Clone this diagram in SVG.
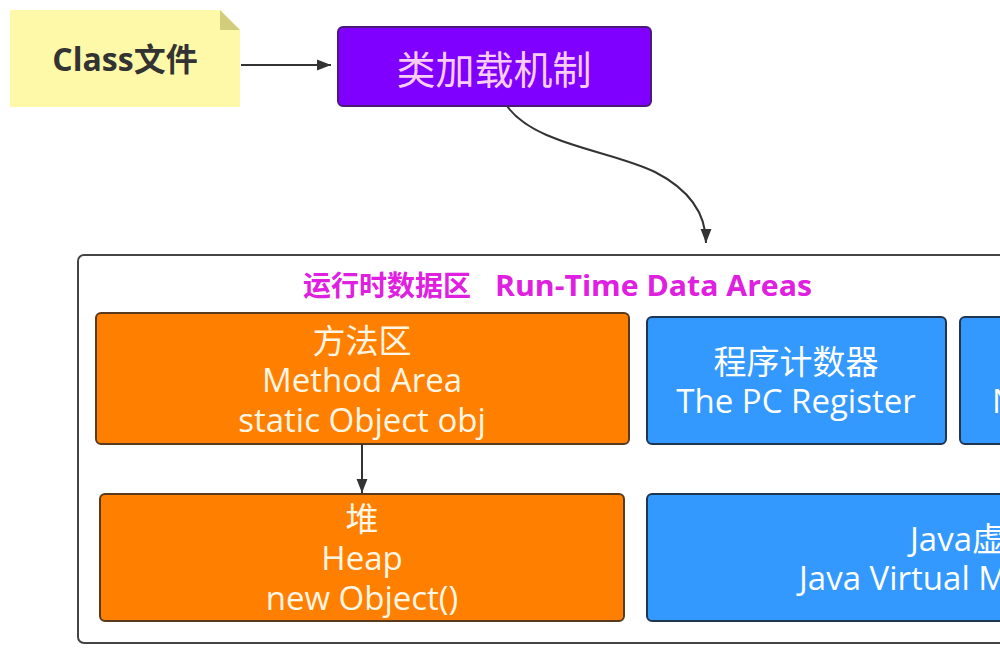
<svg xmlns="http://www.w3.org/2000/svg" width="1000" height="660" viewBox="0 0 1000 660">
<defs>
<style>
.t{font-family:"Open Sans","Noto Sans CJK SC",sans-serif;text-anchor:middle}
.s{font-family:"Open Sans","Noto Sans CJK SC",sans-serif}
.w{fill:#ffffff;font-size:33px}
.wo{fill:#fff6e6;font-size:33px}
.orange{fill:#ff8000;stroke:#5a3a1e;stroke-width:2}
.blue{fill:#3399ff;stroke:#1f3550;stroke-width:2}
.conn{fill:none;stroke:#333;stroke-width:2}
</style>
<marker id="ah2" markerWidth="14" markerHeight="14" refX="18" refY="7" orient="auto" markerUnits="userSpaceOnUse" viewBox="0 0 18 14">
<path d="M0,0 L18,7 L0,14 z" fill="#333"/>
</marker>
</defs>
<rect width="1000" height="660" fill="#ffffff"/>

<g id="container">
<rect x="78" y="255" width="940" height="388" rx="6" fill="#ffffff" stroke="#444" stroke-width="2"/>
<text class="s" x="303" y="296" font-size="28" font-weight="bold" fill="#e020e0"><tspan>运行时数据区</tspan><tspan x="495" textLength="317" lengthAdjust="spacingAndGlyphs">Run-Time Data Areas</tspan></text>
</g>

<g id="classfile">
<path d="M10,10 L220,10 L240,30 L240,107 L10,107 z" fill="#fdf9a8"/>
<path d="M220,10 L240,30 L220,30 z" fill="#d2cd7c"/>
<text class="t" x="125" y="71" font-size="32" font-weight="bold" fill="#333333">Class文件</text>
</g>

<g id="classloader">
<rect x="338" y="27" width="313" height="79" rx="5" fill="#7f00ff" stroke="#4a1a78" stroke-width="2"/>
<text class="t" x="494" y="84" font-size="39" fill="#f9cdf5">类加载机制</text>
</g>

<g id="method">
<rect class="orange" x="96" y="313" width="533" height="131" rx="5"/>
<text class="t wo" x="362" y="353">方法区</text>
<text class="t wo" x="362" y="392">Method Area</text>
<text class="t wo" x="362" y="432">static Object obj</text>
</g>

<g id="heap">
<rect class="orange" x="100" y="494" width="524" height="127" rx="5"/>
<text class="t wo" x="362" y="531">堆</text>
<text class="t wo" x="362" y="570">Heap</text>
<text class="t wo" x="362" y="610">new Object()</text>
</g>

<g id="pc">
<rect class="blue" x="647" y="317" width="299" height="127" rx="5"/>
<text class="t w" x="796" y="374">程序计数器</text>
<text class="t w" x="796" y="413">The PC Register</text>
</g>

<g id="native">
<rect class="blue" x="960" y="317" width="60" height="127" rx="5"/>
<text class="s" x="992" y="413" font-size="33" fill="#ffffff">N</text>
</g>

<g id="jvmstack">
<rect class="blue" x="647" y="494" width="373" height="127" rx="5"/>
<text class="s" x="910" y="551" font-size="33" fill="#ffffff">Java虚</text>
<text class="s" x="799" y="590" font-size="33" fill="#ffffff">Java Virtual M</text>
</g>

<g id="connectors">
<line class="conn" x1="241" y1="65" x2="331" y2="65" marker-end="url(#ah2)"/>
<path class="conn" d="M507,106 C535,145 610,150 655,172 C690,190 706,215 706,243" marker-end="url(#ah2)"/>
<line class="conn" x1="362" y1="444" x2="362" y2="493" marker-end="url(#ah2)"/>
</g>
</svg>
